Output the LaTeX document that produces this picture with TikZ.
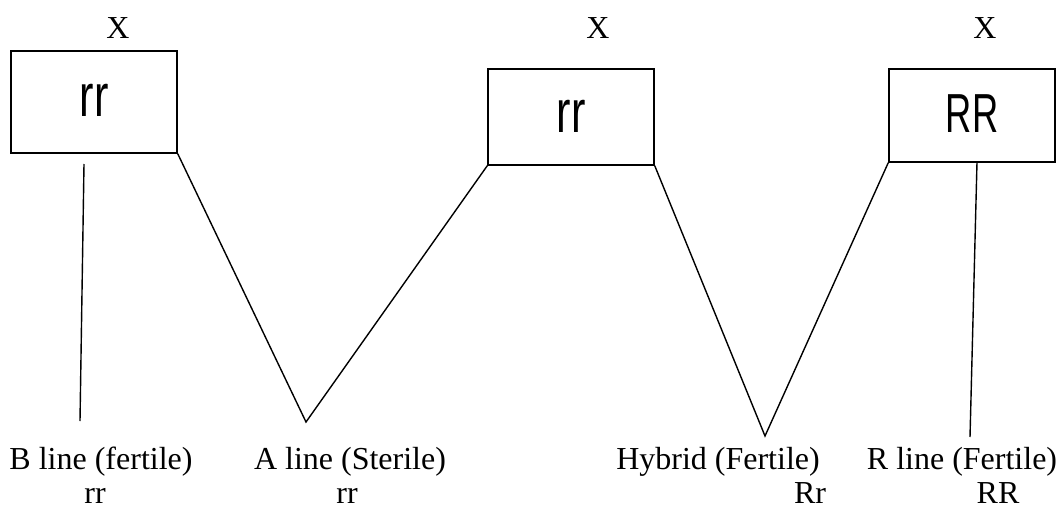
\documentclass[tikz,border=0pt]{standalone}
\usepackage{fontspec}
\setmainfont{Liberation Serif}
\newfontfamily\boxfont[FakeStretch=0.72]{Liberation Sans}
\newfontfamily\boxfontR[FakeStretch=0.66]{Liberation Sans}
\begin{document}
\begin{tikzpicture}[x=1pt,y=-1pt,line width=1.4pt,
  gbox/.style={draw,line width=1.5pt,minimum width=166pt,inner sep=0pt,
    font=\boxfont\fontsize{60}{60}\selectfont},
  lbl/.style={inner sep=0pt,font=\fontsize{32}{32}\selectfont},
  link/.style={draw,line width=1.4pt}]
\useasboundingbox (0,0) rectangle (1062,508);
% crosses
\node[lbl] (x1) at (118,28) {X};
\node[lbl] (x2) at (598,28) {X};
\node[lbl] (x3) at (985,28) {X};
% parent boxes
\node[gbox,minimum height=102pt] (b1) at (94,102) {\raisebox{4pt}{rr}};
\node[gbox,minimum height=96pt] (b2) at (571,117) {\raisebox{1pt}{rr}};
\node[gbox,minimum height=93pt,font=\boxfontR\fontsize{55}{55}\selectfont] (b3) at (972,115.5) {\raisebox{3pt}{RR}};
% vertices and line ends
\coordinate (va) at (306,422);
\coordinate (vh) at (765,436);
\coordinate (bt) at (84,164);
\coordinate (bb) at (80,421);
\coordinate (rt) at (977,162);
\coordinate (rb) at (970,437);
% connectors
\draw[link] (b1.south east) -- (va) -- (b2.south west);
\draw[link] (b2.south east) -- (vh) -- (b3.south west);
\draw[link] (bt) -- (bb);
\draw[link] (rt) -- (rb);
% labels
\node[lbl] (lb) at (101,462) {B line (fertile)};
\node[lbl,anchor=base] (lbg) at (95,503) {rr};
\node[lbl] (la) at (350,462) {A line (Sterile)};
\node[lbl,anchor=base] (lag) at (347,503) {rr};
\node[lbl] (lh) at (718,462) {Hybrid (Fertile)};
\node[lbl,anchor=base] (lhg) at (810,503) {Rr};
\node[lbl] (lr) at (962,462) {R line (Fertile)};
\node[lbl,anchor=base] (lrg) at (998,503) {RR};
\end{tikzpicture}
\end{document}
